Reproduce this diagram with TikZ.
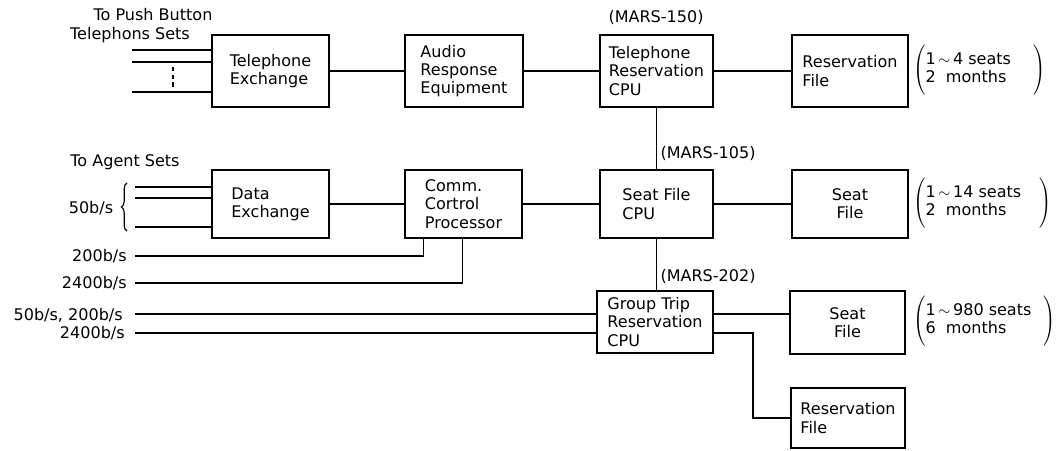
\documentclass[tikz,border=0pt]{standalone}
\usepackage{fontspec}
\setmainfont{DejaVu Sans}
\usepackage{tikz}
\usetikzlibrary{calc, decorations.pathreplacing}

\tikzset{
  unit/.style={draw, line width=1.2pt, inner sep=2pt, align=left},
  link/.style={line width=0.9pt},
  rate/.style={anchor=east, inner sep=0pt},
  note/.style={anchor=west, inner sep=0pt}
}
\newcommand{\seatspan}[3]{$\left(\vrule height 19pt depth 17pt width 0pt\begin{tabular}{@{}p{#1}@{}}1\,$\sim$\,#2 seats\\#3\ \ months\end{tabular}\right)$}

\begin{document}
\begin{tikzpicture}[x=0.025cm, y=-0.025cm, font=\fontsize{11.4}{13}\selectfont]
  \useasboundingbox (0,0) rectangle (1059,450);

  % upper row: telephone path
  \node[unit, minimum width=2.925cm, minimum height=1.8cm] (tex) at (270.5,71) {Telephone\\Exchange};
  \node[unit, minimum width=2.95cm, minimum height=1.8cm] (are) at (464,71) {Audio\\Response\\Equipment};
  \node[unit, minimum width=2.825cm, minimum height=1.8cm] (trcpu) at (656.5,71) {Telephone\\Reservation\\CPU};
  \node[unit, minimum width=2.9cm, minimum height=1.8cm] (rfile) at (850,71) {Reservation\\File};
  \node (mars150) at (656,17) {(MARS-150)};
  \node[note] (note1) at (913,71) {\seatspan{2.7cm}{4}{2}};

  % middle row: agent path
  \node[unit, minimum width=2.925cm, minimum height=1.7cm] (dex) at (270.5,204) {Data\\Exchange};
  \node[unit, minimum width=2.925cm, minimum height=1.7cm] (ccp) at (463.5,204) {Comm.\\Cortrol\\Processor};
  \node[unit, minimum width=2.825cm, minimum height=1.7cm] (sfcpu) at (656.5,204) {Seat File\\CPU};
  \node[unit, minimum width=2.9cm, minimum height=1.7cm, align=center] (sfile) at (850,204) {Seat\\File};
  \node (mars105) at (708,153) {(MARS-105)};
  \node[note] (note2) at (913,204) {\seatspan{2.85cm}{14}{2}};

  % lower row: group trip path
  \node[unit, minimum width=2.9cm, minimum height=1.55cm] (gtcpu) at (655,322) {Group Trip\\Reservation\\CPU};
  \node[unit, minimum width=2.875cm, minimum height=1.575cm, align=center] (sfile2) at (847.5,322.5) {Seat\\File};
  \node[unit, minimum width=2.85cm, minimum height=1.5cm] (rfile2) at (848,418) {Reservation\\File};
  \node (mars202) at (708,276) {(MARS-202)};
  \node[note] (note3) at (913,322) {\seatspan{2.95cm}{980}{6}};

  % left side labels
  \node (push) at (153,15) {To Push Button};
  \node (tsets) at (130,35) {Telephons Sets};
  \node (agent) at (125,162) {To Agent Sets};
  \node (r50) at (91,208) {50b/s};
  \node[rate] (r200) at (127,256) {200b/s};
  \node[rate] (r2400) at (127,283) {2400b/s};
  \node[rate] (r50b) at (123,315) {50b/s, 200b/s};
  \node[rate] (r2400b) at (125,333) {2400b/s};

  % free ends of the incoming lines
  \coordinate (p1) at (132,50);
  \coordinate (p2) at (132,62);
  \coordinate (p3) at (132,92);
  \coordinate (a1) at (135,187);
  \coordinate (a2) at (135,198);
  \coordinate (a3) at (135,227);
  \coordinate (b1) at (135,256);
  \coordinate (b2) at (135,283);
  \coordinate (g1) at (135,314);
  \coordinate (g2) at (135,333);

  \foreach \p in {p1,p2,p3,a1,a2,a3}
    \draw[link] (\p) -- (\p -| tex.west);
  \draw[line width=1.4pt, dash pattern=on 3pt off 2.5pt] (173,67) -- (173,89);
  \draw[line width=0.8pt, decorate, decoration={brace, amplitude=4pt}] (127,231) -- (127,183);

  \draw[link] (tex) -- (are);
  \draw[link] (are) -- (trcpu);
  \draw[link] (trcpu) -- (rfile);
  \draw[link] (trcpu) -- (sfcpu);
  \draw[link] (dex) -- (ccp);
  \draw[link] (ccp) -- (sfcpu);
  \draw[link] (sfcpu) -- (sfile);
  \draw[link] (sfcpu.south) -- (sfcpu.south |- gtcpu.north);
  \draw[link] (b1) -| ($(ccp.south west)+(19,0)$);
  \draw[link] (b2) -| ($(ccp.south west)+(58,0)$);
  \draw[link] (g1) -- (g1 -| gtcpu.west);
  \draw[link] (g2) -- (g2 -| gtcpu.west);
  \draw[link] (gtcpu.east |- g1) -- (sfile2.west |- g1);
  \draw[link] (gtcpu.east |- g2) -- ++(39,0) |- (rfile2.west);
\end{tikzpicture}
\end{document}
